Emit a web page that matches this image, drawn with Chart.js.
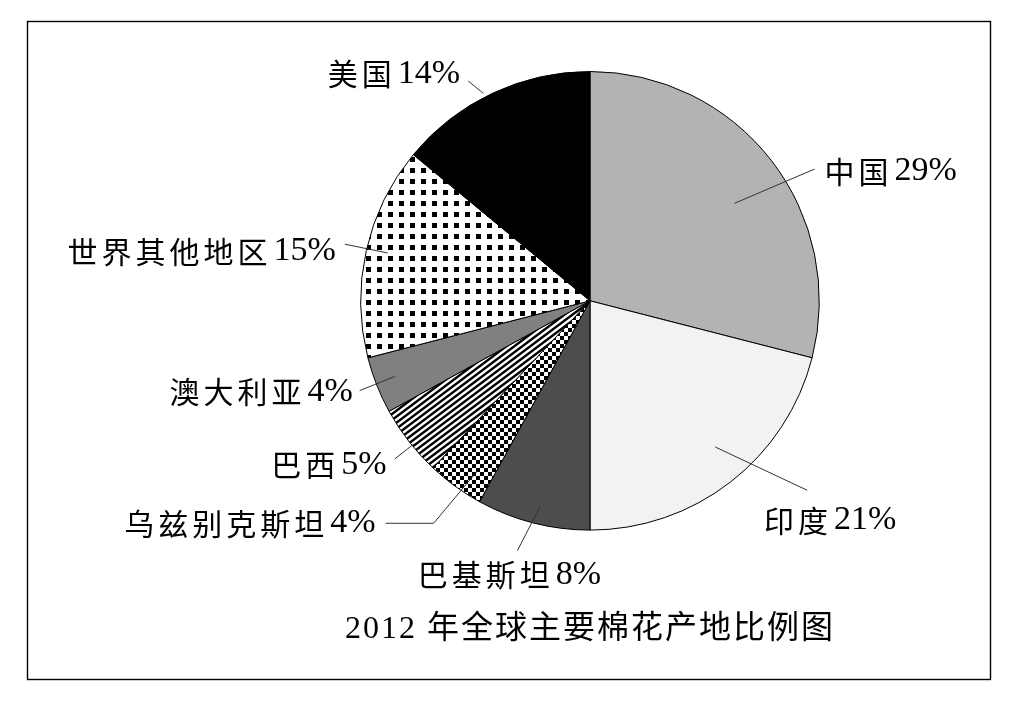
<!DOCTYPE html>
<html>
<head>
<meta charset="utf-8">
<script src="https://cdn.jsdelivr.net/npm/chart.js@4"></script>
<style>
    html, body { margin: 0; padding: 0; background: #fff; }
    canvas { display: block; }
</style>
</head>
<body>
<canvas id="cottonChart" width="1011" height="701"></canvas>
<script>
// 2012 cotton production shares
const countries = ['中国', '印度', '巴基斯坦', '乌兹别克斯坦', '巴西', '澳大利亚', '世界其他地区', '美国'];
const shares = [29, 21, 8, 4, 5, 4, 15, 14];
const chartTitle = '2012 年全球主要棉花产地比例图';

// leader line layout per slice (radius factors, angle shifts in degrees, label offsets)
const labelLayout = [
    { inR: 0.76, inA: 3.8,  outR: 1.135, outA: 7.4,   tail: 0,   dx: 10, dy: 1,  align: 'left' },
    { inR: 0.84, inA: -2.8, outR: 1.257, outA: -11.1, tail: 0,   dx: 23, dy: 29, align: 'center' },
    { inR: 0.92, inA: -0.8, outR: 1.135, outA: 1.8,   tail: 0,   dx: -8, dy: 23, align: 'center' },
    { inR: 0.89, inA: -2.5, outR: 1.186, outA: -0.9,  tail: -48, dx: -10, dy: -1, align: 'right' },
    { inR: 0.99, inA: -1.3, outR: 1.096, outA: -1.2,  tail: 0,   dx: -8, dy: 5,  align: 'right' },
    { inR: 0.913, inA: 0.4, outR: 1.078, outA: 0.3,   tail: 0,   dx: -7, dy: 0,  align: 'right' },
    { inR: 0.907, inA: 0.7, outR: 1.097, outA: 0.4,   tail: 0,   dx: -9, dy: 6,  align: 'right' },
    { inR: 1.017, inA: -2,  outR: 1.096, outA: -3.8,  tail: 0,   dx: -8, dy: -8, align: 'right' }
];

function makePattern(w, h, paint) {
    const c = document.createElement('canvas');
    c.width = w;
    c.height = h;
    const g = c.getContext('2d');
    paint(g, w, h);
    return document.getElementById('cottonChart').getContext('2d').createPattern(c, 'repeat');
}

const dotPattern = makePattern(11, 11, function(g) {
    g.fillStyle = '#fff';
    g.fillRect(0, 0, 11, 11);
    g.fillStyle = '#000';
    g.fillRect(3, 3, 5, 5);
});

const checkPattern = makePattern(8, 8, function(g) {
    g.fillStyle = '#fff';
    g.fillRect(0, 0, 8, 8);
    g.fillStyle = '#000';
    g.fillRect(0, 0, 4, 4);
    g.fillRect(4, 4, 4, 4);
});

const stripePattern = makePattern(8, 6, function(g) {
    g.fillStyle = '#fff';
    g.fillRect(0, 0, 8, 6);
    g.strokeStyle = '#000';
    g.lineWidth = 2.4;
    for (let c = -12; c <= 24; c += 6) {
        g.beginPath();
        g.moveTo(-8, c + 6);
        g.lineTo(16, c - 12);
        g.stroke();
    }
});

const sliceFills = ['#b3b3b3', '#f2f2f2', '#4d4d4d', checkPattern, stripePattern, '#808080', dotPattern, '#000000'];

function drawSpaced(ctx, text, x, y, spacing) {
    for (const ch of text) {
        ctx.fillText(ch, x, y);
        x += ctx.measureText(ch).width + spacing;
    }
    return x;
}

const nameFont = "30px 'Noto Sans CJK SC', sans-serif";
const numFont = "34px 'Liberation Serif', serif";

const framePlugin = {
    id: 'frame',
    beforeDraw(chart) {
        const ctx = chart.ctx;
        ctx.save();
        ctx.fillStyle = '#fff';
        ctx.fillRect(0, 0, chart.width, chart.height);
        ctx.strokeStyle = '#000';
        ctx.lineWidth = 1.4;
        ctx.strokeRect(27.5, 21.5, 963, 658);
        ctx.restore();
        if ('letterSpacing' in ctx) ctx.letterSpacing = '2px';
    },
    beforeDatasetsDraw(chart) {
        if ('letterSpacing' in chart.ctx) chart.ctx.letterSpacing = '0px';
    }
};

const leaderPlugin = {
    id: 'leaders',
    afterDatasetsDraw(chart) {
        const ctx = chart.ctx;
        const arcs = chart.getDatasetMeta(0).data;
        ctx.save();
        if ('letterSpacing' in ctx) ctx.letterSpacing = '0px';
        arcs.forEach(function(arc, i) {
            const lay = labelLayout[i];
            const p = arc.getProps(['x', 'y', 'startAngle', 'endAngle', 'outerRadius'], true);
            const mid = (p.startAngle + p.endAngle) / 2;
            const at = function(f, shift) {
                const a = mid + shift * Math.PI / 180;
                return [p.x + Math.cos(a) * p.outerRadius * f, p.y + Math.sin(a) * p.outerRadius * f];
            };
            const a = at(lay.inR, lay.inA);
            const b = at(lay.outR, lay.outA);
            ctx.strokeStyle = '#333';
            ctx.lineWidth = 1;
            ctx.beginPath();
            ctx.moveTo(a[0], a[1]);
            ctx.lineTo(b[0], b[1]);
            let end = b;
            if (lay.tail) {
                end = [b[0] + lay.tail, b[1]];
                ctx.lineTo(end[0], end[1]);
            }
            ctx.stroke();

            const name = countries[i];
            const num = shares[i] + '%';
            const spacing = 4;
            ctx.font = nameFont;
            let wName = 0;
            for (const ch of name) wName += ctx.measureText(ch).width + spacing;
            ctx.font = numFont;
            const wNum = ctx.measureText(num).width;
            const total = wName + 2 + wNum;
            let x = end[0] + lay.dx;
            if (lay.align === 'right') x -= total;
            else if (lay.align === 'center') x -= total / 2;
            const y = end[1] + lay.dy;
            ctx.fillStyle = '#000';
            ctx.textAlign = 'left';
            ctx.textBaseline = 'middle';
            ctx.font = nameFont;
            x = drawSpaced(ctx, name, x, y + 1, spacing);
            ctx.font = numFont;
            ctx.fillText(num, x + 2, y + 1);
        });
        ctx.restore();
    }
};

const ctx = document.getElementById('cottonChart').getContext('2d');

const cottonChart = new Chart(ctx, {
    type: 'pie',
    data: {
        labels: countries,
        datasets: [{
            data: shares,
            backgroundColor: sliceFills,
            borderColor: '#000',
            borderWidth: 1
        }]
    },
    options: {
        responsive: false,
        animation: false,
        layout: {
            padding: { top: 71, left: 169, right: 0, bottom: 0 }
        },
        plugins: {
            legend: { display: false },
            tooltip: { enabled: false },
            title: {
                display: true,
                text: chartTitle,
                position: 'bottom',
                color: '#000',
                font: {
                    family: "'Liberation Serif', 'Noto Sans CJK SC'",
                    size: 32,
                    weight: 'normal',
                    lineHeight: 1.2
                },
                padding: { top: 80, bottom: 52 }
            }
        }
    },
    plugins: [framePlugin, leaderPlugin]
});
</script>
</body>
</html>
